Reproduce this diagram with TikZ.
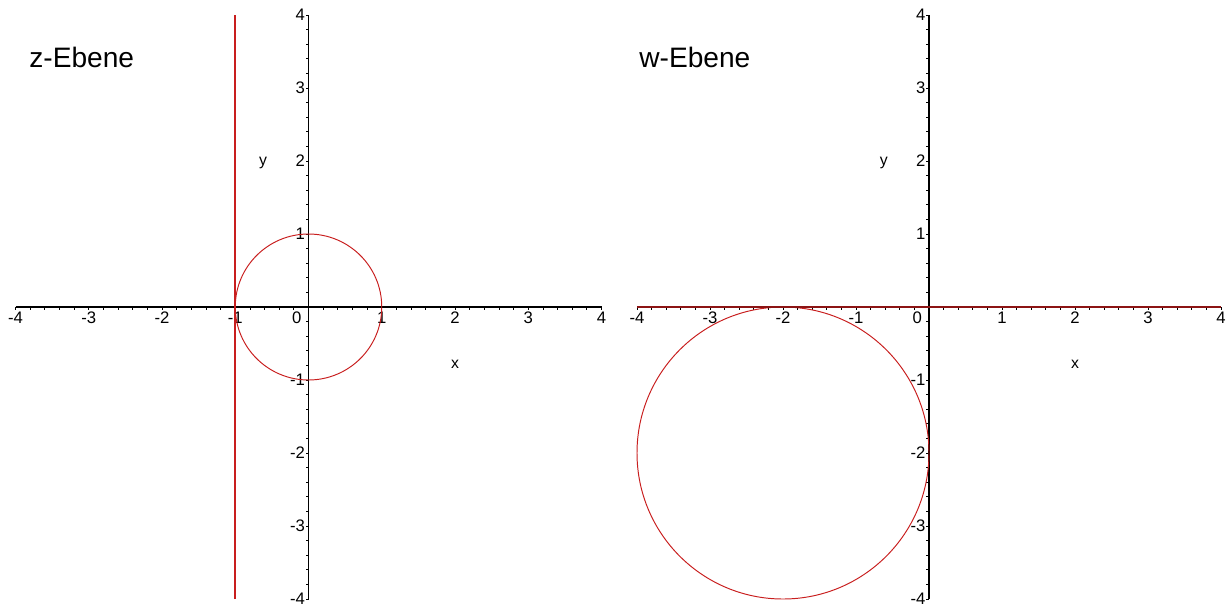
\documentclass[tikz,border=0pt]{standalone}
\usepackage{fontspec}
\setmainfont{Liberation Sans}
\usetikzlibrary{positioning}
\definecolor{mapleRed}{RGB}{200,30,30}
\definecolor{mapleDark}{RGB}{140,20,20}
\tikzset{
  axisline/.style = {draw=black, line width=0.6pt},
  tickline/.style = {draw=black, line width=0.45pt},
  graph/.style    = {draw=mapleRed, line width=0.55pt},
  ticklbl/.style  = {font=\fontsize{9.5}{10}\selectfont, inner sep=1pt},
  axlbl/.style    = {font=\fontsize{9}{10}\selectfont, inner sep=0pt},
  title/.style    = {font=\fontsize{16}{18}\selectfont, anchor=base west, inner sep=0pt}
}
% axes with Maple-like ticks, -4..4 in both directions
\newcommand{\planeaxes}[1]{%
  \draw[axisline] (-4,0) -- (4,0);
  \draw[axisline] (0,-4) -- (0,4);
  \foreach \i in {-20,...,20} {
    \draw[tickline] (\i/5,0) -- (\i/5,-0.04);
    \draw[tickline] (0,\i/5) -- (-0.04,\i/5);
  }
  \foreach \n in {-4,-3,-2,-1,1,2,3,4} {
    \node[ticklbl, anchor=north] (#1x\n) at (\n,-0.04) {\n};
    \node[ticklbl, anchor=east]  (#1y\n) at (-0.02,\n) {\n};
  }
  \node[ticklbl, anchor=north] (#1zero) at (-0.16,-0.04) {0};
  \node[axlbl] (#1xl) at (2,-0.79) {x};
  \node[axlbl] (#1yl) at (-0.62,1.97) {y};
}

\begin{document}
\begin{tikzpicture}
  \useasboundingbox (0,0) rectangle (24.54,12.08);

  % ── z-plane ──────────────────────────────────────────────────────────────
  \node[title] (ztitle) at (0.58,10.74) {z-Ebene};
  \begin{scope}[shift={(6.17cm,5.94cm)}, x=1.465cm, y=1.46cm]
    \planeaxes{z}
    \draw[graph] (0,0) circle (1);
    \draw[draw=mapleRed, line width=1pt] (-1,-4) -- (-1,4);
  \end{scope}

  % ── w-plane ──────────────────────────────────────────────────────────────
  \node[title] (wtitle) at (12.78,10.74) {w-Ebene};
  \begin{scope}[shift={(18.58cm,5.94cm)}, x=1.46cm, y=1.46cm]
    \planeaxes{w}
    \draw[graph] (-2,-2) circle (2);
    \draw[draw=mapleDark, line width=1.2pt] (-4,0) -- (4,0);
  \end{scope}

\end{tikzpicture}
\end{document}
